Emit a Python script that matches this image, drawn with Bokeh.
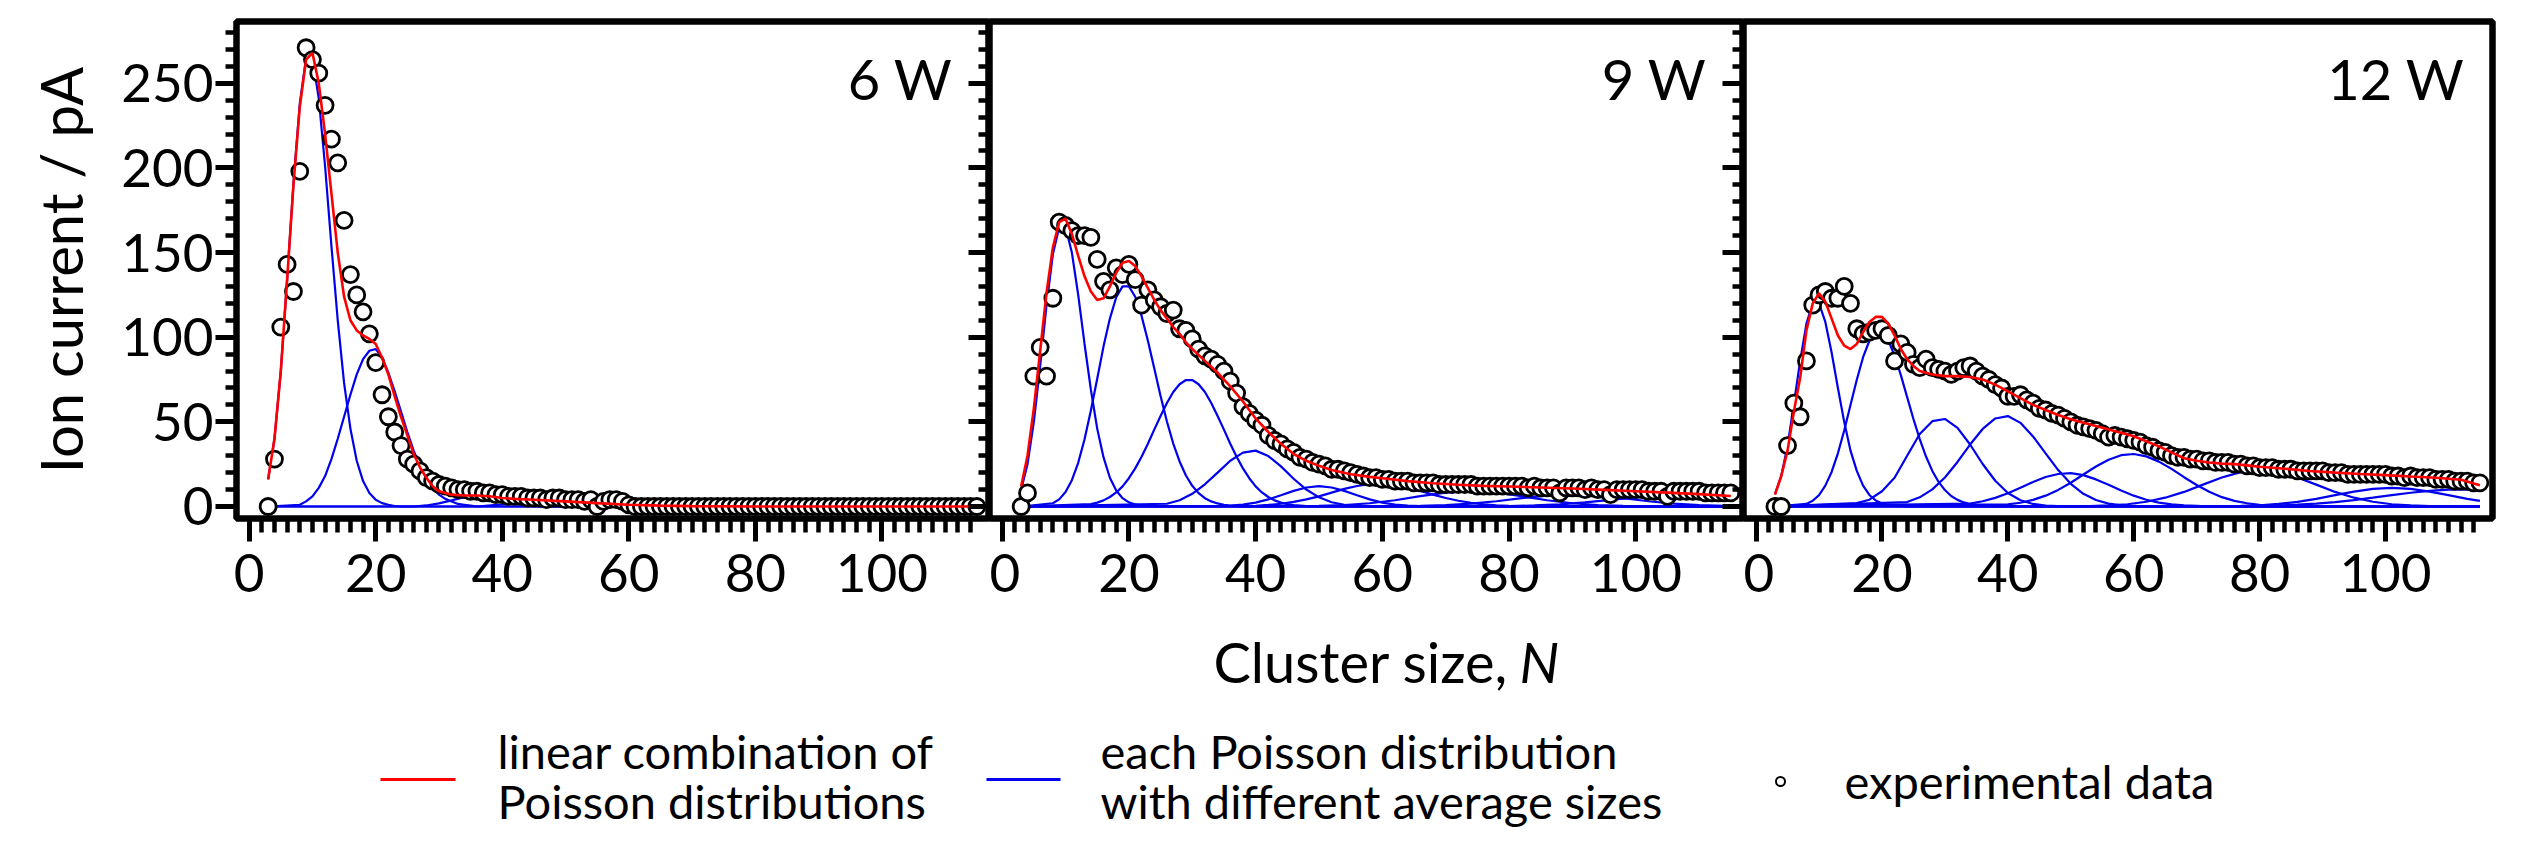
from bokeh.plotting import figure
from bokeh.models import Range1d, LinearAxis, FixedTicker, CustomJSTickFormatter
from bokeh.layouts import column, row
from bokeh.embed import file_html
from bokeh.resources import INLINE
from bokeh.core.properties import value

# ---------------- data ----------------
cluster_n = list(range(3, 116))
panel_titles = ["6 W", "9 W", "12 W"]
x_ticks = [0, 20, 40, 60, 80, 100]
y_ticks = [0, 50, 100, 150, 200, 250]

exp_6w = [0, 28, 106, 143, 127, 198, 271, 264, 256, 237,
          217, 203, 169, 137, 125, 115, 102, 85, 66, 53,
          44, 36, 28, 25, 21, 17, 15, 13, 12, 11,
          10, 10, 9, 9, 8, 8, 7, 7, 6, 6,
          6, 5, 5, 5, 4, 5, 5, 4, 4, 4,
          3, 4, 0, 3, 4, 4, 3, 1, 0, 0,
          0, 0, 0, 0, 0, 0, 0, 0, 0, 0,
          0, 0, 0, 0, 0, 0, 0, 0, 0, 0,
          0, 0, 0, 0, 0, 0, 0, 0, 0, 0,
          0, 0, 0, 0, 0, 0, 0, 0, 0, 0,
          0, 0, 0, 0, 0, 0, 0, 0, 0, 0,
          0, 0, 0]
exp_9w = [0, 8, 77, 94, 77, 123, 168, 166, 163, 160,
          160, 159, 146, 133, 128, 141, 137, 143, 134, 119,
          128, 122, 118, 114, 116, 105, 104, 99, 93, 89,
          87, 84, 80, 74, 67, 59, 55, 51, 48, 42,
          39, 37, 34, 32, 29, 28, 26, 25, 24, 22,
          22, 21, 20, 19, 18, 17, 17, 16, 16, 15,
          15, 15, 14, 14, 14, 14, 13, 13, 13, 13,
          13, 13, 12, 12, 12, 12, 12, 12, 12, 12,
          11, 12, 11, 11, 11, 8, 11, 11, 11, 10,
          11, 10, 10, 7, 10, 10, 10, 10, 10, 9,
          9, 9, 6, 9, 9, 9, 9, 9, 8, 8,
          8, 8, 8]
exp_12w = [0, 0, 36, 61, 53, 86, 119, 125, 127, 123,
           123, 130, 120, 105, 102, 103, 104, 105, 101, 86,
           96, 91, 84, 82, 87, 82, 81, 80, 78, 80,
           82, 83, 80, 77, 75, 72, 70, 65, 65, 66,
           63, 61, 58, 57, 55, 54, 52, 50, 48, 47,
           46, 45, 43, 41, 42, 41, 40, 39, 38, 36,
           35, 33, 32, 30, 29, 29, 28, 28, 27, 27,
           26, 26, 26, 25, 25, 24, 24, 23, 23, 23,
           22, 22, 22, 21, 21, 21, 21, 21, 20, 20,
           20, 19, 19, 19, 19, 19, 19, 19, 18, 18,
           17, 18, 17, 17, 17, 16, 16, 16, 15, 15,
           15, 14, 14]

# red: linear combination of Poisson distributions
fit_6w_n = [3, 4, 5, 6, 7, 8, 9, 10, 11, 12, 13, 14, 15, 16, 17, 18, 19, 20, 21, 22,
            23, 24, 25, 26, 27, 28, 29, 30, 32, 34, 36, 38, 40, 42, 45, 50, 55, 60, 65, 70, 80, 115]
fit_6w_v = [16, 40, 80, 134, 190, 236, 264, 268, 250, 220, 185, 150, 124, 110, 104, 101, 99, 96, 88, 78,
            65, 53, 42, 31, 23, 17, 12, 9, 7, 6.5, 6.5, 6, 5, 4.5, 4, 3, 2, 1, 0.5, 0.2, 0, 0]
fit_9w_n = [3, 4, 5, 6, 7, 8, 9, 10, 11, 12, 13, 14, 15, 16, 17, 18, 19, 20, 21, 22,
            23, 24, 25, 26, 27, 28, 29, 30, 32, 34, 36, 38, 40, 42, 44, 46, 48, 50, 52, 55,
            58, 60, 64, 68, 72, 76, 80, 85, 90, 95, 100, 105, 110, 115]
fit_9w_v = [12, 30, 58, 92, 126, 153, 168, 170, 161, 148, 136, 127, 122, 123, 130, 138, 144, 145, 142, 136,
            129, 122, 116, 111, 106, 102, 97, 93, 86, 79, 71, 62, 52, 44, 37, 31, 27, 24, 21.5, 19,
            17.5, 16.7, 15, 13.7, 12.8, 12.2, 11.8, 11.2, 10.6, 9.8, 9, 8.2, 7.3, 6.2]
fit_12w_n = [3, 4, 5, 6, 7, 8, 9, 10, 11, 12, 13, 14, 15, 16, 17, 18, 19, 20, 21, 22,
             23, 24, 25, 26, 28, 30, 32, 34, 36, 38, 40, 42, 44, 46, 48, 50, 52, 54, 56, 58,
             60, 62, 64, 66, 68, 70, 72, 74, 76, 78, 80, 84, 88, 92, 96, 100, 104, 108, 112, 115]
fit_12w_v = [7, 18, 33, 56, 76, 104, 120, 126, 121, 111, 101, 95, 93, 96, 103, 109, 112, 112, 108, 101,
             93, 87, 83, 80, 78, 77, 77, 76.5, 75, 72, 68, 64, 60, 57, 54, 51.5, 49.5, 47.5, 45.5, 43.5,
             41.5, 38.5, 35.5, 32, 28.5, 27, 26, 25.3, 25, 24.3, 23.5, 22.3, 21, 20, 19.2, 18.5, 17.7, 17, 15.8, 12.5]

# blue: each Poisson distribution (6 W)
w6_c1_n = list(range(3, 25))
w6_c1_v = [16, 40, 80, 134, 191, 238, 265, 265, 241, 201, 154, 110, 73, 46, 27, 15, 8, 4, 2, 1, 0.3, 0]
w6_c2_n = list(range(8, 37))
w6_c2_v = [1, 3, 6, 11, 18, 28, 40, 53, 66, 78, 87, 92, 93, 88, 79, 68, 56, 44, 33, 24,
           17, 11, 7, 4.5, 3, 1.5, 1, 0.5, 0]
w6_c3_n = [26, 28, 30, 32, 34, 35, 36, 38, 40, 42, 44, 46, 48]
w6_c3_v = [0, 0.6, 1.8, 3.6, 5.5, 6, 5.8, 4.6, 3, 1.7, 0.7, 0.2, 0]
w6_c4_n = [36, 40, 43, 46, 49, 52, 55, 58, 62]
w6_c4_v = [0, 1.2, 2.8, 3.5, 2.8, 1.5, 0.6, 0.2, 0]

# blue (9 W)
w9_c1_n = list(range(3, 25))
w9_c1_v = [10, 25, 50, 83, 119, 149, 165, 165, 150, 125, 96, 69, 46, 29, 17, 9.4, 4.9, 2.4, 1.2, 0.5, 0.2, 0]
w9_c2_n = list(range(8, 39))
w9_c2_v = [1.9, 4.2, 8.5, 15.5, 25.8, 39.7, 56.7, 75.5, 94.6, 111, 123.6, 130, 130, 123.9, 112.6, 97.9,
           81.6, 65.3, 50.2, 37.2, 26.6, 18.3, 12.2, 7.9, 4.9, 3, 1.8, 1, 0.5, 0.2, 0]
w9_c3_n = list(range(14, 47)) + [48, 50]
w9_c3_v = [1.4, 2.3, 3.6, 5.6, 8.3, 11.9, 16.7, 22.5, 29.4, 37.1, 45.4, 53.4, 61.1, 67.6, 72.2, 74.7,
           74.7, 72.2, 67.6, 61.1, 53.4, 45.4, 37.1, 29.4, 22.5, 16.7, 11.9, 8.3, 5.6, 3.6, 2.3, 1.4,
           0.8, 0.2, 0]
w9_c4_n = list(range(26, 60, 2))
w9_c4_v = [1.6, 3.7, 7.5, 13.1, 20, 27, 31.8, 33, 29.8, 23.7, 16.4, 10, 5.4, 2.5, 1, 0.3, 0]
w9_c5_n = list(range(34, 70, 2))
w9_c5_v = [0.2, 0.5, 1.1, 2.3, 4.2, 6.6, 9.2, 11.2, 12, 11.2, 9.2, 6.6, 4.2, 2.3, 1.1, 0.5, 0.2, 0]
w9_c6_n = list(range(40, 86, 2))
w9_c6_v = [0.4, 0.9, 1.6, 2.7, 4.2, 6, 8.2, 10.4, 12.1, 13.2, 13.5, 12.8, 11.2, 9.2, 7, 5, 3.4, 2.1,
           1.2, 0.6, 0.3, 0.1, 0]
w9_c7_n = list(range(50, 106, 4))
w9_c7_v = [0.3, 0.8, 1.9, 3.7, 6.1, 8.2, 9, 8.2, 6.1, 3.7, 1.9, 0.8, 0.3, 0]
w9_c8_n = list(range(66, 115, 4)) + [115]
w9_c8_v = [0.3, 0.8, 1.7, 3.1, 4.9, 6.4, 7, 6.4, 4.9, 3.1, 1.7, 0.8, 0.3, 0.3]
w9_c9_n = list(range(80, 113, 4)) + [115]
w9_c9_v = [0.2, 0.6, 1.3, 2.4, 3.9, 5.4, 6.4, 6.4, 5.4, 4.3]

# blue (12 W)
w12_c1_n = list(range(3, 25))
w12_c1_v = [7.3, 18, 36, 60.5, 86, 108, 120, 120, 109, 91, 70, 50, 33, 21, 12.3, 6.8, 3.6, 1.8, 0.9, 0.4, 0.2, 0]
w12_c2_n = list(range(8, 39))
w12_c2_v = [1.5, 3.4, 6.7, 12.3, 20.4, 31.4, 44.9, 59.9, 74.9, 88.2, 97.9, 103, 103, 98.1, 89.2, 77.6,
            64.6, 51.7, 39.8, 29.5, 21, 14.5, 9.7, 6.2, 3.9, 2.4, 1.4, 0.8, 0.4, 0.2, 0]
w12_c3_n = list(range(16, 52, 2))
w12_c3_v = [2, 4, 9, 17, 30, 42.8, 50.4, 51.7, 46.4, 36.6, 25.1, 15.2, 8, 3.7, 1.5, 0.5, 0.2, 0]
w12_c4_n = list(range(24, 64, 2))
w12_c4_v = [2.6, 5.4, 10.1, 17.1, 26.3, 36.6, 45.8, 52, 53.4, 49.4, 41.4, 31.4, 21.5, 13.4, 7.5, 3.8,
            1.7, 0.7, 0.3, 0]
w12_c5_n = list(range(34, 74, 2))
w12_c5_v = [1.7, 3.1, 5.1, 7.8, 11.1, 14.5, 17.4, 19.2, 19.7, 18.5, 16, 12.8, 9.4, 6.4, 4, 2.3, 1.2, 0.6, 0.3, 0]
w12_c6_n = list(range(40, 88, 2))
w12_c6_v = [1.2, 2.2, 3.9, 6.4, 9.8, 14, 18.9, 23.6, 27.6, 30.3, 31, 29.6, 26.5, 22.2, 17.3, 12.7, 8.7,
            5.5, 3.3, 1.9, 1, 0.5, 0.2, 0]
w12_c7_n = list(range(50, 114, 3))
w12_c7_v = [0.1, 0.2, 0.6, 1.3, 2.8, 5.2, 8.6, 12.9, 17.1, 20.3, 21.5, 20.3, 17.1, 12.9, 8.6, 5.2, 2.8,
            1.3, 0.6, 0.2, 0.1, 0]
w12_c8_n = list(range(74, 114, 3)) + [115]
w12_c8_v = [0.1, 0.3, 0.7, 1.5, 2.7, 4.5, 6.7, 8.8, 10.4, 11, 10.4, 8.8, 6.7, 4.5, 3.3]
w12_c9_n = list(range(80, 114, 3)) + [115]
w12_c9_v = [0.3, 0.6, 1.1, 1.7, 2.6, 3.8, 5.2, 6.7, 8.1, 9.2, 9.9, 10, 9.7]

legend_labels = [["linear combination of", "Poisson distributions"],
                 ["each Poisson distribution", "with different average sizes"],
                 ["experimental data"]]

# ---------------- styling / layout ----------------
FONT = "Lato"
RED = "#ff0000"
BLUE = "#0000ee"
X0, X1 = -2.0, 117.0
Y0, Y1 = -7.1, 286.5
FRAME_H = 497
TOP = 21
BOTTOM = 103
N_FIRST, N_LAST = 3, 115
BASE_SHIFT = 0.28   # empirical baseline correction (fraction of font size)

panels = [
    dict(exp=exp_6w, fn=fit_6w_n, fv=fit_6w_v,
         comps=[(w6_c1_n, w6_c1_v), (w6_c2_n, w6_c2_v), (w6_c3_n, w6_c3_v), (w6_c4_n, w6_c4_v)]),
    dict(exp=exp_9w, fn=fit_9w_n, fv=fit_9w_v,
         comps=[(w9_c1_n, w9_c1_v), (w9_c2_n, w9_c2_v), (w9_c3_n, w9_c3_v), (w9_c4_n, w9_c4_v),
                (w9_c5_n, w9_c5_v), (w9_c6_n, w9_c6_v), (w9_c7_n, w9_c7_v), (w9_c8_n, w9_c8_v),
                (w9_c9_n, w9_c9_v)]),
    dict(exp=exp_12w, fn=fit_12w_n, fv=fit_12w_v,
         comps=[(w12_c1_n, w12_c1_v), (w12_c2_n, w12_c2_v), (w12_c3_n, w12_c3_v), (w12_c4_n, w12_c4_v),
                (w12_c5_n, w12_c5_v), (w12_c6_n, w12_c6_v), (w12_c7_n, w12_c7_v), (w12_c8_n, w12_c8_v),
                (w12_c9_n, w12_c9_v)]),
]

geom = [dict(w=989, bl=236, br=0, tdx=37, left_axis=True, right_ticks=True),
        dict(w=754, bl=0, br=0, tdx=37, left_axis=False, right_ticks=True),
        dict(w=753, bl=0, br=4, tdx=28, left_axis=False, right_ticks=False)]


def y_ticker():
    return FixedTicker(ticks=y_ticks, minor_ticks=list(range(0, 290, 10)))


def x_ticker():
    return FixedTicker(ticks=x_ticks, minor_ticks=list(range(0, 115, 2)))


def pad(ns, vs):
    ns, vs = list(ns), list(vs)
    if ns[0] > N_FIRST:
        ns, vs = [N_FIRST] + ns, [0] + vs
    if ns[-1] < N_LAST:
        ns, vs = ns + [N_LAST], vs + [0]
    return ns, vs


TITLE_FS = 56
PPU_Y = FRAME_H / (Y1 - Y0)
figs = []
for i, (pd_, g) in enumerate(zip(panels, geom)):
    p = figure(width=g["w"], height=TOP + FRAME_H + BOTTOM, title=None,
               x_range=Range1d(X0, X1), y_range=Range1d(Y0, Y1),
               output_backend="svg", toolbar_location=None,
               x_axis_location=None, y_axis_location=None,
               min_border_left=g["bl"], min_border_right=g["br"],
               min_border_top=TOP, min_border_bottom=BOTTOM)
    p.grid.visible = False
    p.background_fill_color = "white"
    p.border_fill_color = "white"
    p.outline_line_color = "black"
    p.outline_line_width = 6.5

    xa = LinearAxis(ticker=x_ticker(), axis_line_color=None,
                    major_tick_in=0, major_tick_out=23, minor_tick_in=0, minor_tick_out=14,
                    major_tick_line_width=5, minor_tick_line_width=4.5,
                    major_tick_line_color="black", minor_tick_line_color="black",
                    major_label_text_font=FONT, major_label_text_font_size="53px",
                    major_label_text_color="black", major_label_standoff=12)
    p.add_layout(xa, "below")

    if g["left_axis"]:
        ya = LinearAxis(ticker=y_ticker(), axis_line_color=None,
                        major_tick_in=0, major_tick_out=21, minor_tick_in=0, minor_tick_out=11,
                        major_tick_line_width=5, minor_tick_line_width=4.5,
                        major_tick_line_color="black", minor_tick_line_color="black",
                        major_label_text_font=FONT, major_label_text_font_size="53px",
                        major_label_text_color="black", major_label_standoff=2,
                        axis_label="Ion current / pA", axis_label_text_font=FONT,
                        axis_label_text_font_size="58px", axis_label_text_font_style="normal",
                        axis_label_text_color="black", axis_label_standoff=23)
        p.add_layout(ya, "left")
    if g["right_ticks"]:
        ra = LinearAxis(ticker=y_ticker(), axis_line_color=None,
                        formatter=CustomJSTickFormatter(code="return ''"),
                        major_tick_in=21, major_tick_out=0, minor_tick_in=11, minor_tick_out=0,
                        major_tick_line_width=5, minor_tick_line_width=4.5,
                        major_tick_line_color="black", minor_tick_line_color="black",
                        major_label_standoff=0)
        p.add_layout(ra, "right")

    for ns, vs in pd_["comps"]:
        xs, ys = pad(ns, vs)
        p.line(xs, ys, line_color=BLUE, line_width=2.2)
    p.scatter(cluster_n, pd_["exp"], marker="circle", size=16, fill_color="white",
              line_color="black", line_width=2.8)
    p.line(pd_["fn"], pd_["fv"], line_color=RED, line_width=2.6)

    frame_w = g["w"] - g["bl"] - g["br"]
    ppu_x = frame_w / (X1 - X0)
    tx = X1 - g["tdx"] / ppu_x
    ty = Y1 - (73 - BASE_SHIFT * TITLE_FS) / PPU_Y
    p.text(x=[tx], y=[ty], text=[panel_titles[i]], text_font=value(FONT), text_font_size=f"{TITLE_FS}px",
           text_align="right", text_baseline="alphabetic", text_color="black")
    figs.append(p)

# bottom strip: axis title and legend (coordinates = page pixels)
TOTAL_W = sum(g["w"] for g in geom)
TOP_H = TOP + FRAME_H + BOTTOM
LEG_H = 832 - TOP_H
y_top = 8 + TOP_H
y_bot = 8 + TOP_H + LEG_H
lg = figure(width=TOTAL_W, height=LEG_H, title=None,
            x_range=Range1d(8, 8 + TOTAL_W), y_range=Range1d(y_bot, y_top),
            output_backend="svg", toolbar_location=None, x_axis_location=None, y_axis_location=None,
            min_border=0, min_border_left=0, min_border_right=0, min_border_top=0, min_border_bottom=0)
lg.grid.visible = False
lg.outline_line_color = None
lg.background_fill_color = "white"
lg.border_fill_color = "white"

XL_FS = 56
xl_y = 685 - BASE_SHIFT * XL_FS
lg.text(x=[1516], y=[xl_y], text=["Cluster size,"], text_font=value(FONT), text_font_size=f"{XL_FS}px",
        text_align="right", text_baseline="alphabetic", text_color="black")
lg.text(x=[1527], y=[xl_y], text=["N"], text_font=value(FONT), text_font_size=f"{XL_FS}px",
        text_font_style="italic", text_align="left", text_baseline="alphabetic", text_color="black")

LEG_FS = 47
sh = BASE_SHIFT * LEG_FS
lg.line([388, 463], [787, 787], line_color=RED, line_width=3)
lg.text(x=[505, 505], y=[772 - sh, 822 - sh], text=legend_labels[0], text_font=value(FONT),
        text_font_size=f"{LEG_FS}px", text_align="left", text_baseline="alphabetic", text_color="black")
lg.line([994, 1068], [787, 787], line_color=BLUE, line_width=3)
lg.text(x=[1108, 1108], y=[772 - sh, 822 - sh], text=legend_labels[1], text_font=value(FONT),
        text_font_size=f"{LEG_FS}px", text_align="left", text_baseline="alphabetic", text_color="black")
lg.scatter([1788], [789], marker="circle", size=9, fill_color="white", line_color="black", line_width=2)
lg.text(x=[1852], y=[802 - sh], text=legend_labels[2], text_font=value(FONT),
        text_font_size=f"{LEG_FS}px", text_align="left", text_baseline="alphabetic", text_color="black")

layout = column(row(*figs), lg)
open("out.html", "w").write(file_html(layout, INLINE))
